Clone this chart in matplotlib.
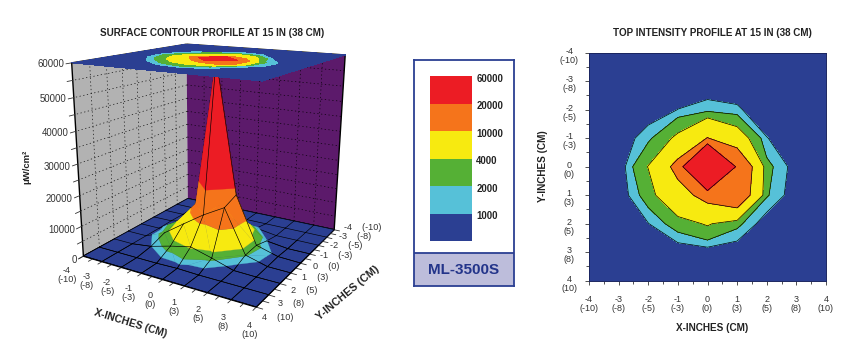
#!/usr/bin/env python
# -*- coding: utf-8 -*-
import numpy as np
import matplotlib
matplotlib.use('Agg')
import matplotlib.pyplot as plt
from matplotlib.transforms import ScaledTranslation
from mpl_toolkits.mplot3d import proj3d
from mpl_toolkits.mplot3d.art3d import Poly3DCollection

plt.rcParams['font.family'] = ['Liberation Sans', 'DejaVu Sans']

W, H = 864, 363

# Intensity, rows y=-4..4, columns x=-4..4
inches = [-4, -3, -2, -1, 0, 1, 2, 3, 4]
cm = [-10, -8, -5, -3, 0, 3, 5, 8, 10]
intensity = [
    [100, 100, 100, 100, 100, 100, 100, 100, 100],
    [100, 100, 100, 100, 100, 100, 100, 100, 100],
    [100, 100, 250, 1020, 1500, 1200, 100, 100, 100],
    [100, 200, 1640, 4650, 10200, 5900, 1050, 100, 100],
    [100, 100, 4100, 12000, 60000, 17900, 2450, 400, 100],
    [100, 100, 2800, 7560, 12200, 16100, 2150, 200, 100],
    [100, 100, 950, 2800, 4300, 2400, 230, 100, 100],
    [100, 100, 100, 100, 300, 100, 100, 100, 100],
    [100, 100, 100, 100, 100, 100, 100, 100, 100],
]
levels = [0, 1000, 2000, 4000, 10000, 20000, 60000]
colors = ['#2b3f92', '#56c1d8', '#55b035', '#f7ea10', '#f5741b', '#ec1c24']
legend_labels = ['1000', '2000', '4000', '10000', '20000', '60000']
z_ticks = [0, 10000, 20000, 30000, 40000, 50000, 60000]
navy = '#2b3f92'
txt = '#333333'

two_line = ['%d\n(%d)' % (a, b) for a, b in zip(inches, cm)]
one_line = ['%d    (%d)' % (a, b) for a, b in zip(inches, cm)]
half_ticks = np.arange(-4, 4.5, 0.5)

X, Y = np.meshgrid(inches, inches)
Z = np.array(intensity, dtype=float)


def clip_band(tri, lo, hi):
    # cut a triangle down to the part between two heights
    poly = tri
    for limit, sign in ((lo, 1), (hi, -1)):
        out = []
        for i in range(len(poly)):
            a, b = np.array(poly[i]), np.array(poly[(i + 1) % len(poly)])
            da, db = sign * (a[2] - limit), sign * (b[2] - limit)
            if da >= 0:
                out.append(a)
            if da * db < 0:
                out.append(a + (b - a) * da / (da - db))
        poly = out
        if len(poly) == 0:
            return []
    return poly


def surface_triangles():
    tris = []
    for j in range(8):
        for i in range(8):
            c = [(X[j + a, i + b], Y[j + a, i + b], Z[j + a, i + b])
                 for a, b in ((0, 0), (0, 1), (1, 1), (1, 0))]
            k = int(np.argmax([p[2] for p in c]))
            tris.append([c[k], c[(k + 1) % 4], c[(k + 3) % 4]])
            tris.append([c[(k + 2) % 4], c[(k + 1) % 4], c[(k + 3) % 4]])
    return tris


def mesh_segments():
    segs = []
    for j in range(9):
        for i in range(8):
            segs.append(((X[j, i], X[j, i + 1]), (Y[j, i], Y[j, i + 1]), (Z[j, i], Z[j, i + 1])))
            segs.append(((X[i, j], X[i + 1, j]), (Y[i, j], Y[i + 1, j]), (Z[i, j], Z[i + 1, j])))
    return segs


def label3d(x, y, z, s, **kw):
    # plain 2D text at the projected place of a 3D point
    px, py, _ = proj3d.proj_transform(x, y, z, ax.get_proj())
    ax.text2D(px, py, s, transform=ax.transData, color=txt, va='center', **kw)


fig = plt.figure(figsize=(W / 100, H / 100), dpi=100)

"""
3D PLOT
"""
ax = fig.add_axes([51.0 / W, 43.8 / H, 320.8 / W, 320.8 / H], projection='3d', computed_zorder=False)
ax.view_init(16.14, -59.85, -0.28)
ax.set_proj_type('persp', focal_length=0.353)
ax.set_box_aspect((1, 1, 1))
ax.patch.set_alpha(0)
ax.set_xlim(-4, 4)
ax.set_ylim(4, -4)
ax.set_zlim(0, 60000)

ax.set_xticks([])
ax.set_yticks([])
ax.set_zticks([])
ax.grid(False)
ax.xaxis.set_pane_color('#b2b2b2')
ax.yaxis.set_pane_color('#5c1a6b')
ax.zaxis.set_pane_color(navy)
for axis in (ax.xaxis, ax.yaxis, ax.zaxis):
    axis.line.set_color((0, 0, 0, 0))
    axis.pane.set_edgecolor((0, 0, 0, 0))

# dashed lines on the two walls
wall = dict(color='k', lw=0.45, ls=(0, (2, 4)), zorder=1)
for z in np.arange(5000, 60000, 5000):
    ax.plot([-4, -4], [-4, 4], [z, z], **wall)
    ax.plot([-4, 4], [-4, -4], [z, z], **wall)
for t in inches[1:-1]:
    ax.plot([-4, -4], [t, t], [0, 60000], **wall)
    ax.plot([t, t], [-4, -4], [0, 60000], **wall)

# contour bands of the surface, the mesh goes under and over them
bands = [[] for c in colors]
for tri in surface_triangles():
    for b in range(6):
        poly = clip_band(tri, levels[b], levels[b + 1])
        if len(poly) > 2:
            bands[b].append(np.array(poly))
for b in range(6):
    col = Poly3DCollection(bands[b], facecolors=colors[b], edgecolors=colors[b], linewidths=0.2, zorder=3 + 2 * b)
    ax.add_collection3d(col)

for sx, sy, sz in mesh_segments():
    ax.plot(sx, sy, sz, color='k', lw=0.45, zorder=4)
    if 0.5 * np.mean(sx) + 0.87 * np.mean(sy) > 0.1:
        ax.plot(sx, sy, sz, color='k', lw=0.45, zorder=16)

ax.contourf(X, Y, Z, levels=levels, colors=colors, zdir='z', offset=60000, zorder=20)

ax.set_xlim(-4, 4)
ax.set_ylim(4, -4)
ax.set_zlim(0, 60000)

# ticks and labels along the box
for t in half_ticks:
    ax.plot([t, t], [4, 4.25], [0, 0], color=txt, lw=0.6, zorder=2)
    ax.plot([4, 4.25], [t, t], [0, 0], color=txt, lw=0.6, zorder=2)
for z in np.arange(0, 65000, 5000):
    ax.plot([-4, -4], [4, 4.3], [z, z], color=txt, lw=0.6, zorder=2)
for t, lab in zip(inches, two_line):
    label3d(t + (t + 4) * 0.02, 5.0 - (t + 4) * 0.02, -3000, lab, fontsize=6.6, ha='center', linespacing=1.0)
for t, lab in zip(inches, one_line):
    label3d(4.85 + (4 - t) * 0.06, t, -1000 + (4 - t) * 500, lab, fontsize=6.6, ha='center')
for z in z_ticks:
    label3d(-4, 4.4, z, str(z), fontsize=6.9, ha='right')

fig.text(212 / W, 1 - 33 / H, 'SURFACE CONTOUR PROFILE AT 15 IN (38 CM)', fontsize=7.1, fontweight='bold',
         color='#222222', ha='center', va='center')
fig.text(27 / W, 1 - 167 / H, 'μW/cm²', fontsize=6.8, fontweight='bold', color='#222222', rotation=90,
         ha='center', va='center')
fig.text(131 / W, 1 - 323 / H, 'X-INCHES (CM)', fontsize=7.5, fontweight='bold', color='#222222', rotation=-17,
         ha='center', va='center')
fig.text(348 / W, 1 - 293 / H, 'Y-INCHES (CM)', fontsize=7.8, fontweight='bold', color='#222222', rotation=40,
         ha='center', va='center')

"""
LEGEND
"""
box = fig.add_axes([414 / W, 1 - 286 / H, 100 / W, 226 / H])
box.set_xlim(0, 1)
box.set_ylim(0, 226)
box.set_xticks([])
box.set_yticks([])
box.axhspan(0, 33, color='#bdbddb', lw=0)
box.axhline(33, color=navy, lw=1.3)
for sp in box.spines.values():
    sp.set_color(navy)
    sp.set_linewidth(1.3)
box.text(0.5, 16, 'ML-3500S', fontsize=11, fontweight='bold', color='#23348a', ha='center', va='center')

bars = fig.add_axes([430 / W, 1 - 241 / H, 42 / W, 165 / H])
bars.set_xlim(0, 1)
bars.set_ylim(0, 6)
bars.axis('off')
for i in range(6):
    bars.bar(0.5, 1, width=1, bottom=i, color=colors[i], lw=0)
    bars.text(1.1, i + 0.9, legend_labels[i], fontsize=6.9, fontweight='bold', color='#222222', ha='left', va='center')

"""
TOP VIEW
"""
ax2 = fig.add_axes([589 / W, 1 - 280.7 / H, 237 / W, 228 / H])
ax2.contourf(X, Y, Z, levels=levels, colors=colors)
ax2.contour(X, Y, Z, levels=levels[1:-1], colors='k', linewidths=0.5)
ax2.set_xlim(-4, 4)
ax2.set_ylim(4, -4)
ax2.set_xticks(inches)
ax2.set_xticklabels(two_line)
ax2.set_yticks(inches)
ax2.set_yticklabels(two_line)
ax2.set_xticks(half_ticks, minor=True)
ax2.set_yticks(half_ticks, minor=True)
ax2.tick_params(axis='both', which='major', length=3.2, width=0.6, color=txt, labelsize=6.5, labelcolor=txt)
ax2.tick_params(axis='both', which='minor', length=2, width=0.6, color=txt)
ax2.tick_params(axis='x', which='major', pad=7)
ax2.tick_params(axis='y', which='major', pad=11)
up = ScaledTranslation(0, 6 / 100, fig.dpi_scale_trans)
for lab in ax2.get_yticklabels():
    lab.set_ha('center')
    lab.set_va('top')
    lab.set_linespacing(1.0)
    lab.set_transform(lab.get_transform() + up)
for lab in ax2.get_xticklabels():
    lab.set_linespacing(1.0)
for sp in ax2.spines.values():
    sp.set_color('#1a2560')
    sp.set_linewidth(0.7)

fig.text(712 / W, 1 - 33 / H, 'TOP INTENSITY PROFILE AT 15 IN (38 CM)', fontsize=7.1, fontweight='bold',
         color='#222222', ha='center', va='center')
fig.text(712 / W, 1 - 328 / H, 'X-INCHES (CM)', fontsize=7.2, fontweight='bold', color='#222222',
         ha='center', va='center')
fig.text(543 / W, 1 - 166 / H, 'Y-INCHES (CM)', fontsize=7.2, fontweight='bold', color='#222222', rotation=90,
         ha='center', va='center')

fig.savefig('out.png', dpi=100)
